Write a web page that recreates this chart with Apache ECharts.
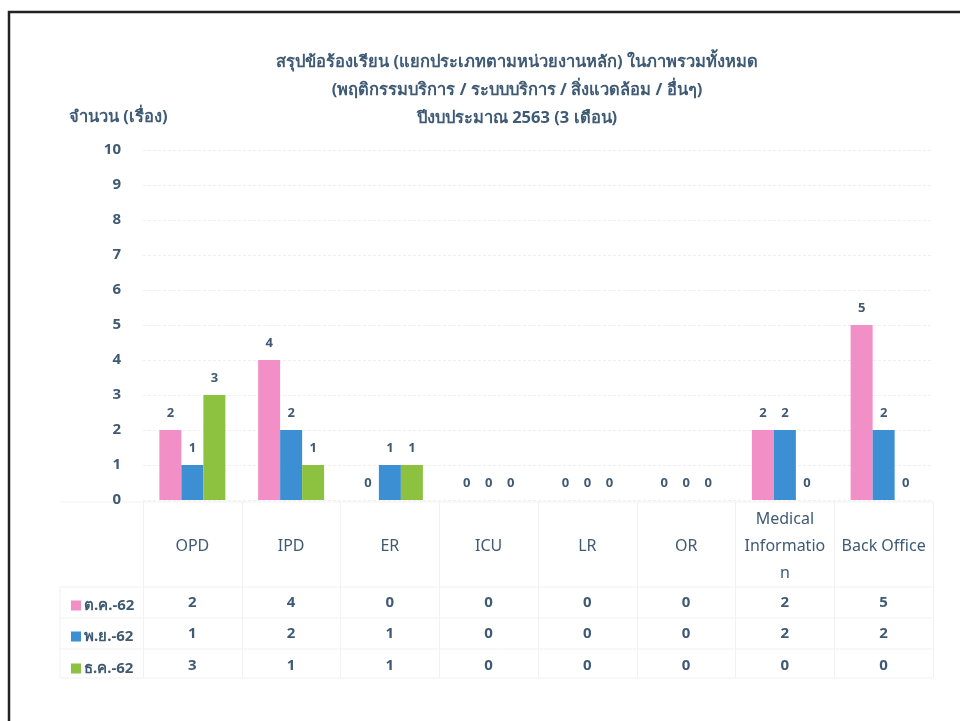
<!DOCTYPE html>
<html>
<head>
<meta charset="utf-8">
<script src="https://cdn.jsdelivr.net/npm/echarts@6/dist/echarts.min.js"></script>
<style>
  html, body { margin: 0; padding: 0; background: #fff; }
  #chart { width: 960px; height: 721px; }
</style>
</head>
<body>
<div id="chart"></div>
<script>
  // data
  var categories = ['OPD', 'IPD', 'ER', 'ICU', 'LR', 'OR', 'Medical Information', 'Back Office'];
  var seriesNames = ['ต.ค.-62', 'พ.ย.-62', 'ธ.ค.-62'];
  var octData = [2, 4, 0, 0, 0, 0, 2, 5];
  var novData = [1, 2, 1, 0, 0, 0, 2, 2];
  var decData = [3, 1, 1, 0, 0, 0, 0, 0];
  var yTicks = [0, 1, 2, 3, 4, 5, 6, 7, 8, 9, 10];

  var textColor = '#3f5a74';
  var font = '"Noto Sans", "DejaVu Sans", sans-serif';
  var colors = ['#f28fc6', '#3b8fd2', '#8cc23f'];
  var rows = [octData, novData, decData];
  var rowY = [603, 634, 666];

  var chart = echarts.init(document.getElementById('chart'));

  // x axes: category names + one axis per table row
  var xAxes = [{
    type: 'category',
    gridIndex: 0,
    position: 'bottom',
    data: categories,
    axisLine: { show: false },
    axisTick: { show: false },
    axisLabel: {
      interval: 0,
      hideOverlap: false,
      margin: 46,
      verticalAlign: 'middle',
      color: textColor,
      fontFamily: font,
      fontSize: 16,
      lineHeight: 27,
      formatter: function (v) {
        return v == 'Medical Information' ? 'Medical\nInformatio\nn' : v;
      }
    }
  }];
  rows.forEach(function (r, k) {
    xAxes.push({
      type: 'category',
      gridIndex: 0,
      position: 'bottom',
      data: categories,
      axisLine: { show: false },
      axisTick: { show: false },
      axisLabel: {
        interval: 0,
        margin: rowY[k] - 500,
        verticalAlign: 'middle',
        color: textColor,
        fontFamily: font,
        fontSize: 15,
        fontWeight: 'bold',
        formatter: function (v, i) { return String(r[i]); }
      }
    });
  });
  // table column lines
  xAxes.push({
    type: 'category',
    gridIndex: 1,
    data: categories,
    axisLine: { show: false },
    axisTick: { show: false },
    axisLabel: { show: false },
    splitLine: { show: true, interval: 0, lineStyle: { color: '#f1f1f1', width: 1 } }
  });

  var barLabel = {
    show: true,
    position: 'top',
    distance: 10,
    color: textColor,
    fontFamily: font,
    fontSize: 13,
    fontWeight: 'bold'
  };

  var hLines = [502, 587, 618, 649, 678].map(function (y) {
    return {
      type: 'line',
      shape: { x1: 60, y1: y, x2: 933, y2: y },
      style: { stroke: '#f1f1f1', lineWidth: 1 }
    };
  });

  var option = {
    backgroundColor: '#fff',
    animation: false,
    color: colors,
    title: [{
      text: 'สรุปข้อร้องเรียน (แยกประเภทตามหน่วยงานหลัก) ในภาพรวมทั้งหมด\n(พฤติกรรมบริการ / ระบบบริการ / สิ่งแวดล้อม / อื่นๆ)\nปีงบประมาณ 2563 (3 เดือน)',
      left: 512,
      top: 43,
      textAlign: 'center',
      textStyle: {
        color: textColor,
        fontFamily: font,
        fontSize: 16.5,
        fontWeight: 'bold',
        lineHeight: 28
      }
    }, {
      text: 'จำนวน (เรื่อง)',
      left: 64,
      top: 104,
      textStyle: { color: textColor, fontFamily: font, fontSize: 16.5, fontWeight: 'bold' }
    }],
    legend: seriesNames.map(function (n, k) {
      return {
        data: [n],
        left: 66,
        top: rowY[k] - 10,
        height: 20,
        itemWidth: 10,
        itemHeight: 10,
        icon: 'rect',
        itemGap: 6,
        selectedMode: false,
        textStyle: { color: textColor, fontFamily: font, fontSize: 15, fontWeight: 'bold', padding: [0, 0, 0, -2] }
      };
    }),
    grid: [
      { left: 143, right: 27, top: 150, bottom: 221 },
      { left: 143, right: 27, top: 502, bottom: 43 }
    ],
    xAxis: xAxes,
    yAxis: [{
      type: 'value',
      gridIndex: 0,
      min: yTicks[0],
      max: yTicks[yTicks.length - 1],
      interval: 1,
      axisLine: { show: false },
      axisTick: { show: false },
      axisLabel: {
        margin: 22,
        color: textColor,
        fontFamily: font,
        fontSize: 15,
        fontWeight: 'bold'
      },
      splitLine: { lineStyle: { color: '#efefef', type: [3, 2] } }
    }, {
      type: 'value',
      gridIndex: 1,
      show: false
    }],
    series: [
      { name: seriesNames[0], type: 'bar', data: octData, barWidth: 22, barGap: '0%', label: barLabel },
      { name: seriesNames[1], type: 'bar', data: novData, barWidth: 22, barGap: '0%', label: barLabel },
      { name: seriesNames[2], type: 'bar', data: decData, barWidth: 22, barGap: '0%', label: barLabel }
    ],
    graphic: hLines.concat([{
      type: 'line',
      shape: { x1: 60, y1: 587, x2: 60, y2: 678 },
      style: { stroke: '#f1f1f1', lineWidth: 1 }
    }, {
      type: 'rect',
      shape: { x: 9, y: 12, width: 970, height: 730 },
      style: { fill: null, stroke: '#222', lineWidth: 2.5 },
      z: 10
    }])
  };

  chart.setOption(option);
</script>
</body>
</html>
